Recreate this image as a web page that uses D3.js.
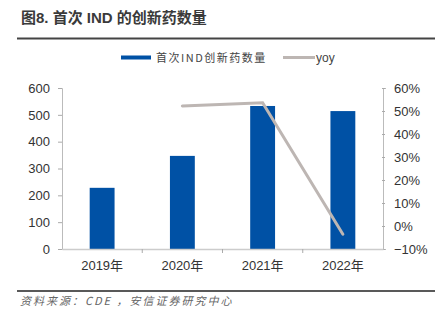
<!DOCTYPE html>
<html><head><meta charset="utf-8">
<script src="https://cdn.jsdelivr.net/npm/d3@7"></script>
<style>body{margin:0;background:#fff}svg{display:block}</style>
</head><body>
<svg id="c" width="446" height="323"></svg>
<script>
const categories = ["2019年","2020年","2021年","2022年"];
const indCounts = [228, 347, 533, 514];
const yoy = [null, 52.2, 53.6, -3.6];
const leftTicks = [0,100,200,300,400,500,600];
const rightTicks = [-10,0,10,20,30,40,50,60];
const title = "图8. 首次 IND 的创新药数量";
const seriesNames = ["首次IND创新药数量","yoy"];
const source = "资料来源：CDE ，安信证券研究中心";

(function(){
const svg = d3.select("#c");
const font = "Arial, 'Liberation Sans', 'Noto Sans CJK SC', sans-serif";
const cjk = "'Noto Sans CJK SC', sans-serif";
const pl = 62, pr = 383, pt = 88, pb = 249;

// title
svg.append("text").attr("x",21).attr("y",23).text(title)
  .attr("font-family",font).attr("font-size",15).attr("font-weight","bold").attr("fill","#3a3a3a");
svg.append("line").attr("x1",17).attr("x2",435).attr("y1",38.5).attr("y2",38.5)
  .attr("stroke","#444").attr("stroke-width",2);

const x = d3.scaleBand().domain(categories).range([pl,pr]).paddingInner(0.69).paddingOuter(0.345);
const xb = d3.scaleBand().domain(categories).range([pl,pr]);
const yL = d3.scaleLinear().domain([0,600]).range([pb,pt]);
const yR = d3.scaleLinear().domain([-10,60]).range([pb,pt]);

// bars
svg.append("g").selectAll("rect").data(indCounts).join("rect")
  .attr("x",(d,i)=>x(categories[i])).attr("width",x.bandwidth())
  .attr("y",d=>yL(d)).attr("height",d=>yL(0)-yL(d)).attr("fill","#0051A5");

// axes
const gL = svg.append("g").attr("transform",`translate(${pl},0)`)
  .call(d3.axisLeft(yL).tickValues(leftTicks).tickSize(4).tickPadding(8));
const gR = svg.append("g").attr("transform",`translate(${pr},0)`)
  .call(d3.axisRight(yR).tickValues(rightTicks).tickFormat(d=>(d<0?"\u2212":"")+Math.abs(d)+"%").tickSize(3).tickPadding(8));
gR.selectAll(".tick line").attr("x1",-1).attr("x2",2);
const gX = svg.append("g").attr("transform",`translate(0,${pb})`)
  .call(d3.axisBottom(xb).tickSize(0).tickPadding(12));
svg.append("g").selectAll("line").data(categories.slice(1)).join("line")
  .attr("x1",d=>xb(d)).attr("x2",d=>xb(d)).attr("y1",pb).attr("y2",pb+4).attr("stroke","#aaa");
[gL,gR,gX].forEach(g=>{
  g.selectAll(".domain").attr("stroke","#bbb");
  g.selectAll(".tick line").attr("stroke","#aaa");
  g.selectAll("text").attr("font-family",font).attr("font-size",13).attr("fill","#333");
});
gX.select(".domain").attr("stroke","#ccc").attr("stroke-width",1.5);

// yoy line
const line = d3.line().defined(d=>d!=null)
  .x((d,i)=>xb(categories[i])+xb.bandwidth()/2).y(d=>yR(d));
svg.append("path").datum(yoy).attr("d",line).attr("fill","none")
  .attr("stroke","#BDB6B3").attr("stroke-width",3).attr("stroke-linecap","round");

// legend
svg.append("rect").attr("x",121).attr("y",55.5).attr("width",30).attr("height",4).attr("fill","#0051A5");
svg.append("text").attr("x",156).attr("y",62).text(seriesNames[0])
  .attr("font-family",cjk).attr("font-size",11).attr("fill","#444").attr("letter-spacing",1.5);
svg.append("line").attr("x1",283).attr("x2",315).attr("y1",57.5).attr("y2",57.5)
  .attr("stroke","#BDB6B3").attr("stroke-width",3);
svg.append("text").attr("x",316).attr("y",62).text(seriesNames[1])
  .attr("font-family",font).attr("font-size",12).attr("fill","#444");

// footer
svg.append("line").attr("x1",17).attr("x2",435).attr("y1",291).attr("y2",291)
  .attr("stroke","#222").attr("stroke-width",1.5);
svg.append("text").attr("x",20).attr("y",305).text(source)
  .attr("font-family",cjk).attr("font-size",11).attr("font-style","italic").attr("fill","#666")
  .attr("letter-spacing",2);
})();
</script>
</body></html>
